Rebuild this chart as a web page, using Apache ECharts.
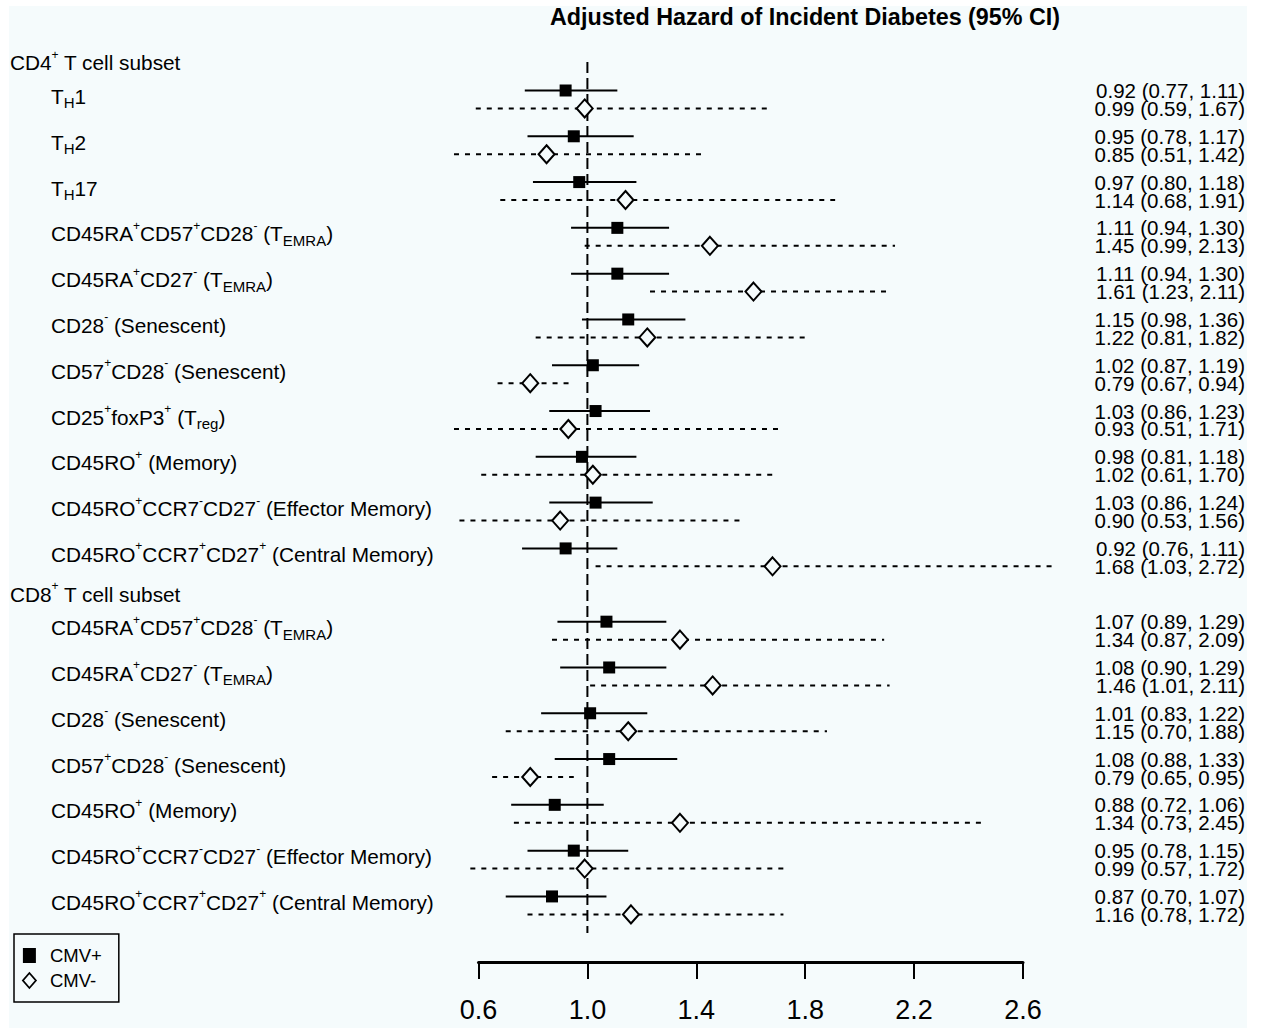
<!DOCTYPE html>
<html><head><meta charset="utf-8">
<script src="https://cdn.jsdelivr.net/npm/echarts@6/dist/echarts.min.js"></script>
<style>html,body{margin:0;padding:0;background:#fff}#chart{width:1263px;height:1028px}</style>
</head><body><div id="chart"></div>
<script>
// ---------- data ----------
const chartTitle = 'Adjusted Hazard of Incident Diabetes (95% CI)';
const groupHeaders = ['CD4{sup|+} T cell subset', 'CD8{sup|+} T cell subset'];
const cd4Labels = [
  'T{sub|H}1',
  'T{sub|H}2',
  'T{sub|H}17',
  'CD45RA{sup|+}CD57{sup|+}CD28{sup|-} (T{sub|EMRA})',
  'CD45RA{sup|+}CD27{sup|-} (T{sub|EMRA})',
  'CD28{sup|-} (Senescent)',
  'CD57{sup|+}CD28{sup|-} (Senescent)',
  'CD25{sup|+}foxP3{sup|+} (T{sub|reg})',
  'CD45RO{sup|+} (Memory)',
  'CD45RO{sup|+}CCR7{sup|-}CD27{sup|-} (Effector Memory)',
  'CD45RO{sup|+}CCR7{sup|+}CD27{sup|+} (Central Memory)'
];
const cd8Labels = [
  'CD45RA{sup|+}CD57{sup|+}CD28{sup|-} (T{sub|EMRA})',
  'CD45RA{sup|+}CD27{sup|-} (T{sub|EMRA})',
  'CD28{sup|-} (Senescent)',
  'CD57{sup|+}CD28{sup|-} (Senescent)',
  'CD45RO{sup|+} (Memory)',
  'CD45RO{sup|+}CCR7{sup|-}CD27{sup|-} (Effector Memory)',
  'CD45RO{sup|+}CCR7{sup|+}CD27{sup|+} (Central Memory)'
];
const seriesNames = ['CMV+', 'CMV-'];
const cmvPosEst = [0.92,0.95,0.97,1.11,1.11,1.15,1.02,1.03,0.98,1.03,0.92, 1.07,1.08,1.01,1.08,0.88,0.95,0.87];
const cmvPosLo  = [0.77,0.78,0.80,0.94,0.94,0.98,0.87,0.86,0.81,0.86,0.76, 0.89,0.90,0.83,0.88,0.72,0.78,0.70];
const cmvPosHi  = [1.11,1.17,1.18,1.30,1.30,1.36,1.19,1.23,1.18,1.24,1.11, 1.29,1.29,1.22,1.33,1.06,1.15,1.07];
const cmvNegEst = [0.99,0.85,1.14,1.45,1.61,1.22,0.79,0.93,1.02,0.90,1.68, 1.34,1.46,1.15,0.79,1.34,0.99,1.16];
const cmvNegLo  = [0.59,0.51,0.68,0.99,1.23,0.81,0.67,0.51,0.61,0.53,1.03, 0.87,1.01,0.70,0.65,0.73,0.57,0.78];
const cmvNegHi  = [1.67,1.42,1.91,2.13,2.11,1.82,0.94,1.71,1.70,1.56,2.72, 2.09,2.11,1.88,0.95,2.45,1.72,1.72];
const xTicks = [0.6, 1.0, 1.4, 1.8, 2.2, 2.6];
const refValue = 1.0;

// ---------- layout ----------
const BG = '#f5fbfc';
const FONT = "'Liberation Sans', Arial, Helvetica, sans-serif";
const HEADER_OFFSET = 0.8, GROUP_GAP = 1.6, PAIR_OFFSET = 0.196;
const rowPos = [];
const headerPos = [-HEADER_OFFSET, cd4Labels.length - 1 + HEADER_OFFSET];
cd4Labels.forEach((_, i) => rowPos.push(i));
cd8Labels.forEach((_, i) => rowPos.push(cd4Labels.length - 1 + GROUP_GAP + i));
const allLabels = cd4Labels.concat(cd8Labels);
const Y_MIN = -0.862, Y_MAX = 18.836;
const REF_FROM = -0.82, REF_TO = 18.2;

const rich = {
  sup: { fontSize: 12, fontFamily: FONT, fill: '#000', verticalAlign: 'top', lineHeight: 14 },
  sub: { fontSize: 15, fontFamily: FONT, fill: '#000', verticalAlign: 'bottom', lineHeight: 16 }
};

function ciSeries(name, est, lo, hi, offset, dashed, marker) {
  return {
    type: 'custom', name: name, z: 3, silent: true,
    itemStyle: { color: marker === 'square' ? '#000' : BG, borderColor: '#000' },
    data: est.map((e, i) => [e, lo[i], hi[i], rowPos[i] + offset]),
    encode: { x: [0, 1, 2], y: 3 },
    renderItem: function (params, api) {
      const y = api.value(3);
      const a = api.coord([api.value(1), y]);
      const b = api.coord([api.value(2), y]);
      const c = api.coord([api.value(0), y]);
      const children = [{
        type: 'line',
        shape: { x1: a[0], y1: a[1], x2: b[0], y2: b[1] },
        style: { stroke: '#000', lineWidth: 2, lineDash: dashed ? [5, 6] : null }
      }];
      if (marker === 'square') {
        children.push({ type: 'rect', shape: { x: c[0] - 6, y: c[1] - 6, width: 12, height: 12 }, style: { fill: '#000' } });
      } else {
        children.push({ type: 'polygon',
          shape: { points: [[c[0], c[1] - 9], [c[0] + 8, c[1]], [c[0], c[1] + 9], [c[0] - 8, c[1]]] },
          style: { fill: BG, stroke: '#000', lineWidth: 2 } });
      }
      return { type: 'group', children: children };
    }
  };
}

const fmt = v => v.toFixed(2);

const option = {
  animation: false,
  backgroundColor: '#fff',
  graphic: [{ type: 'rect', left: 9, top: 6, z: -100, silent: true, shape: { width: 1238, height: 1022 }, style: { fill: BG } }],
  title: {
    text: chartTitle, left: 550, top: 5, padding: 0,
    textStyle: { fontSize: 23.3, fontWeight: 'bold', color: '#000', fontFamily: FONT }
  },
  legend: {
    orient: 'vertical', left: 14, top: 934, padding: [12, 17, 12, 8], itemGap: 6,
    itemWidth: 13, itemHeight: 15, borderColor: '#000', borderWidth: 1.5, selectedMode: false,
    textStyle: { fontSize: 18.5, color: '#000', fontFamily: FONT, padding: [0, 0, 0, 9] },
    data: [
      { name: seriesNames[0], icon: 'rect', itemStyle: { color: '#000', borderWidth: 0 } },
      { name: seriesNames[1], icon: 'diamond', itemStyle: { color: BG, borderColor: '#000', borderWidth: 1.8 } }
    ]
  },
  grid: { left: 478.5, right: 240, top: 60, bottom: 66, containLabel: false },
  xAxis: {
    type: 'value', min: xTicks[0], max: xTicks[xTicks.length - 1],
    splitLine: { show: false },
    axisLine: { show: true, onZero: false, lineStyle: { color: '#000', width: 3 } },
    axisTick: { show: true, length: 17, customValues: xTicks, lineStyle: { color: '#000', width: 2 } },
    axisLabel: { customValues: xTicks, formatter: v => v.toFixed(1), fontSize: 27, color: '#000', fontFamily: FONT, margin: 34 }
  },
  yAxis: { type: 'value', inverse: true, min: Y_MIN, max: Y_MAX, show: false },
  series: [
    {
      type: 'line', name: 'ref', silent: true, z: 1, symbol: 'none',
      data: [[refValue, REF_FROM], [refValue, REF_TO]],
      lineStyle: { color: '#000', width: 2, type: [11, 5] }
    },
    ciSeries(seriesNames[0], cmvPosEst, cmvPosLo, cmvPosHi, -PAIR_OFFSET, false, 'square'),
    ciSeries(seriesNames[1], cmvNegEst, cmvNegLo, cmvNegHi, PAIR_OFFSET, true, 'diamond'),
    {
      type: 'custom', name: 'labels', silent: true, z: 5,
      data: headerPos.map((p, i) => [p, 0, i]).concat(rowPos.map((p, i) => [p, 1, i])),
      encode: { y: 0 },
      renderItem: function (params, api) {
        const kind = api.value(1), idx = api.value(2);
        const isHeader = kind === 0;
        const yv = api.value(0) + (isHeader ? 0 : -0.065);
        const pt = api.coord([xTicks[0], yv]);
        return {
          type: 'text', x: isHeader ? 10 : 51, y: pt[1],
          style: {
            text: isHeader ? groupHeaders[idx] : allLabels[idx],
            fontSize: 20.8, fontFamily: FONT, fill: '#000', lineHeight: 28,
            align: 'left', verticalAlign: 'middle', rich: rich
          }
        };
      }
    },
    {
      type: 'custom', name: 'values', silent: true, z: 5,
      data: rowPos.map((p, i) => [p, i]),
      encode: { y: 0 },
      renderItem: function (params, api) {
        const i = api.value(1);
        const p1 = api.coord([xTicks[0], api.value(0) - PAIR_OFFSET]);
        const p2 = api.coord([xTicks[0], api.value(0) + PAIR_OFFSET]);
        const line1 = fmt(cmvPosEst[i]) + ' (' + fmt(cmvPosLo[i]) + ', ' + fmt(cmvPosHi[i]) + ')';
        const line2 = fmt(cmvNegEst[i]) + ' (' + fmt(cmvNegLo[i]) + ', ' + fmt(cmvNegHi[i]) + ')';
        return {
          type: 'text', x: 1245, y: (p1[1] + p2[1]) / 2,
          style: {
            text: line1 + '\n' + line2, lineHeight: p2[1] - p1[1],
            fontSize: 20.5, fontFamily: FONT, fill: '#000', align: 'right', verticalAlign: 'middle'
          }
        };
      }
    }
  ]
};
const chart = echarts.init(document.getElementById('chart'), null, { renderer: 'svg' });
chart.setOption(option);
</script></body></html>
